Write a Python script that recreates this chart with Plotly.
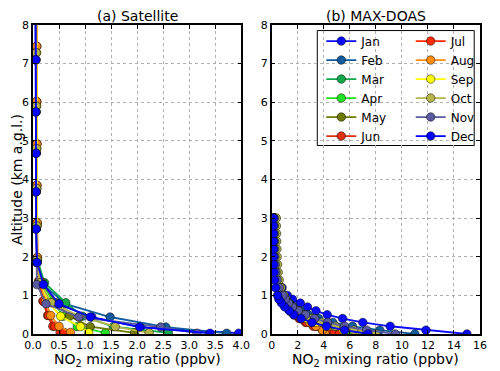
import plotly.graph_objects as go
from plotly.subplots import make_subplots

months = ["Jan", "Feb", "Mar", "Apr", "May", "Jun",
          "Jul", "Aug", "Sep", "Oct", "Nov", "Dec"]
colors = ["#0a0aff", "#105c9e", "#10a84a", "#22e022", "#6e7a00", "#e03010",
          "#ff2a00", "#ff8c10", "#ffff00", "#b5b54a", "#5a5aa0", "#0000ff"]

# satellite layer altitudes (km), vary with season
sat_alt_winter = [0.02, 0.18, 0.44, 0.78, 1.28, 1.85, 2.72, 3.68, 4.68, 5.75, 7.10, 8.60]
sat_alt_mid = [0.03, 0.19, 0.46, 0.81, 1.33, 1.92, 2.80, 3.77, 4.80, 5.90, 7.28, 8.80]
sat_alt_summer = [0.04, 0.20, 0.48, 0.85, 1.38, 1.98, 2.88, 3.85, 4.92, 6.02, 7.45, 9.00]
sat_alt_group = ["winter", "winter", "mid", "mid", "mid", "summer",
                 "summer", "summer", "mid", "mid", "winter", "winter"]

sat_jan = [3.95, 2.07, 1.13, 0.48, 0.17, 0.075, 0.06, 0.06, 0.06, 0.055, 0.055, 0.05]
sat_feb = [3.72, 2.55, 1.48, 0.62, 0.20, 0.08, 0.065, 0.06, 0.06, 0.06, 0.055, 0.05]
sat_mar = [2.60, 1.54, 0.95, 0.63, 0.22, 0.085, 0.07, 0.065, 0.065, 0.06, 0.06, 0.055]
sat_apr = [1.39, 0.85, 0.58, 0.40, 0.17, 0.08, 0.07, 0.065, 0.065, 0.06, 0.06, 0.055]
sat_may = [1.95, 1.10, 0.70, 0.45, 0.18, 0.08, 0.07, 0.065, 0.065, 0.06, 0.06, 0.055]
sat_jun = [0.52, 0.38, 0.28, 0.19, 0.11, 0.08, 0.075, 0.07, 0.07, 0.07, 0.07, 0.065]
sat_jul = [0.60, 0.42, 0.30, 0.20, 0.12, 0.085, 0.08, 0.075, 0.075, 0.07, 0.07, 0.065]
sat_aug = [0.72, 0.50, 0.34, 0.24, 0.13, 0.085, 0.08, 0.075, 0.075, 0.07, 0.07, 0.065]
sat_sep = [1.07, 0.91, 0.53, 0.30, 0.14, 0.085, 0.08, 0.075, 0.075, 0.07, 0.07, 0.065]
sat_oct = [2.23, 1.58, 0.90, 0.35, 0.14, 0.08, 0.07, 0.065, 0.065, 0.06, 0.06, 0.055]
sat_nov = [3.15, 2.45, 0.88, 0.25, 0.075, 0.065, 0.06, 0.06, 0.06, 0.055, 0.055, 0.05]
sat_dec = [3.40, 2.05, 1.10, 0.50, 0.20, 0.08, 0.06, 0.06, 0.06, 0.055, 0.055, 0.05]

# MAX-DOAS altitudes (km)
md_alt = [0.0, 0.1, 0.2, 0.3, 0.4, 0.5, 0.6, 0.7, 0.8, 0.9, 1.0,
          1.2, 1.4, 1.6, 1.8, 2.0, 2.2, 2.4, 2.6, 2.8, 3.0]

md_jan = [15.0, 11.85, 9.1, 7.0, 5.45, 4.26, 3.4, 2.75, 2.2, 1.6, 1.2,
          0.8, 0.45, 0.3, 0.22, 0.2, 0.18, 0.17, 0.16, 0.16, 0.15]
md_feb = [11.0, 8.3, 6.2, 4.7, 3.6, 2.8, 2.2, 1.7, 1.35, 1.05, 0.85,
          0.55, 0.38, 0.28, 0.23, 0.2, 0.19, 0.18, 0.18, 0.17, 0.17]
md_mar = [6.8, 5.2, 4.0, 3.1, 2.45, 1.95, 1.6, 1.3, 1.05, 0.88, 0.75,
          0.52, 0.38, 0.3, 0.26, 0.24, 0.22, 0.21, 0.2, 0.2, 0.2]
md_apr = [6.0, 4.7, 3.6, 2.8, 2.2, 1.75, 1.4, 1.15, 0.95, 0.8, 0.68,
          0.48, 0.36, 0.29, 0.25, 0.23, 0.22, 0.21, 0.2, 0.2, 0.2]
md_may = [5.5, 4.4, 3.5, 2.8, 2.25, 1.8, 1.45, 1.2, 1.0, 0.85, 0.72,
          0.52, 0.4, 0.33, 0.29, 0.27, 0.25, 0.24, 0.23, 0.22, 0.22]
md_jun = [4.8, 3.9, 3.2, 2.6, 2.1, 1.7, 1.4, 1.15, 0.95, 0.8, 0.68,
          0.5, 0.38, 0.31, 0.27, 0.25, 0.24, 0.23, 0.22, 0.22, 0.21]
md_jul = [5.2, 4.2, 3.4, 2.7, 2.2, 1.75, 1.4, 1.15, 0.95, 0.8, 0.68,
          0.5, 0.38, 0.31, 0.27, 0.25, 0.24, 0.23, 0.22, 0.22, 0.21]
md_aug = [4.1, 3.9, 3.4, 2.9, 2.3, 1.85, 1.5, 1.2, 0.95, 0.8, 0.68,
          0.48, 0.36, 0.3, 0.26, 0.24, 0.23, 0.22, 0.21, 0.21, 0.2]
md_sep = [7.0, 5.5, 4.3, 3.4, 2.7, 2.2, 1.8, 1.5, 1.25, 1.05, 0.9,
          0.68, 0.52, 0.43, 0.38, 0.35, 0.33, 0.32, 0.31, 0.3, 0.3]
md_oct = [8.0, 6.3, 4.9, 3.8, 3.0, 2.4, 1.95, 1.6, 1.3, 1.1, 0.95,
          0.72, 0.58, 0.5, 0.45, 0.42, 0.4, 0.38, 0.37, 0.36, 0.35]
md_nov = [9.5, 7.3, 5.6, 4.3, 3.3, 2.6, 2.05, 1.6, 1.3, 1.05, 0.85,
          0.58, 0.42, 0.33, 0.28, 0.25, 0.23, 0.22, 0.21, 0.2, 0.2]
md_dec = [7.4, 5.6, 4.2, 3.1, 2.25, 1.7, 1.35, 1.0, 0.75, 0.55, 0.45,
          0.3, 0.22, 0.18, 0.15, 0.15, 0.14, 0.14, 0.13, 0.13, 0.13]

sat_vals = [sat_jan, sat_feb, sat_mar, sat_apr, sat_may, sat_jun,
            sat_jul, sat_aug, sat_sep, sat_oct, sat_nov, sat_dec]
md_vals = [md_jan, md_feb, md_mar, md_apr, md_may, md_jun,
           md_jul, md_aug, md_sep, md_oct, md_nov, md_dec]
sat_alts = {"winter": sat_alt_winter, "mid": sat_alt_mid, "summer": sat_alt_summer}

FONT = "DejaVu Sans"

fig = make_subplots(rows=1, cols=2, horizontal_spacing=0.068)

for i, m in enumerate(months):
    marker = dict(size=8.5, color=colors[i], line=dict(color="rgba(0,0,0,0.7)", width=0.7))
    fig.add_trace(
        go.Scatter(
            x=sat_vals[i], y=sat_alts[sat_alt_group[i]],
            mode="lines+markers", name=m, showlegend=False,
            line=dict(color=colors[i], width=1.8), marker=marker,
        ),
        row=1, col=1
    )
    # first six months in one legend column, the rest in a second
    fig.add_trace(
        go.Scatter(
            x=md_vals[i], y=md_alt,
            mode="lines+markers", name=m,
            legend="legend" if i < 6 else "legend2",
            line=dict(color=colors[i], width=1.8), marker=marker,
        ),
        row=1, col=2
    )

axis_style = dict(
    showline=True, linecolor="black", linewidth=1.5, mirror="allticks",
    ticks="inside", ticklen=4, tickcolor="black",
    showgrid=True, gridcolor="#b0b0b0", griddash="dot", gridwidth=1,
    zeroline=False, tickfont=dict(family=FONT, size=11, color="black"),
)

fig.update_xaxes(axis_style)
fig.update_yaxes(axis_style)
fig.update_xaxes(range=[0, 4.0], dtick=0.5, tickformat=".1f", row=1, col=1)
fig.update_xaxes(range=[0, 16], dtick=2, row=1, col=2)
fig.update_yaxes(range=[0, 8], dtick=1, row=1, col=1)
fig.update_yaxes(range=[0, 8], dtick=1, row=1, col=2)

title_font = dict(family=FONT, size=14, color="black")
for xref in ["x domain", "x2 domain"]:
    fig.add_annotation(text="NO<sub>2</sub> mixing ratio (ppbv)", xref=xref, yref="paper",
                       x=0.5, y=-0.085, yanchor="middle", showarrow=False, font=title_font)
fig.add_annotation(text="Altitude (km a.g.l.)", xref="paper", yref="paper",
                   x=-0.037, y=0.5, textangle=-90, xanchor="center", yanchor="middle",
                   showarrow=False, font=title_font)

fig.add_annotation(text="(a) Satellite", xref="x domain", yref="y domain", x=0.5, y=1.0,
                   yanchor="bottom", showarrow=False, font=title_font, yshift=-1)
fig.add_annotation(text="(b) MAX-DOAS", xref="x2 domain", yref="y2 domain", x=0.5, y=1.0,
                   yanchor="bottom", showarrow=False, font=title_font, yshift=-1)

legend_font = dict(family=FONT, size=12, color="black")
# page body adds an 8 px offset, so the figure is sized 8 px smaller
fig.update_layout(
    width=492, height=363,
    margin=dict(l=25, r=11, t=11, b=37),
    plot_bgcolor="white", paper_bgcolor="white",
    font=dict(family=FONT, color="black"),
    legend=dict(x=0.645, y=0.995, xanchor="left", yanchor="top",
                bgcolor="rgba(0,0,0,0)", font=legend_font, tracegroupgap=0),
    legend2=dict(x=0.845, y=0.995, xanchor="left", yanchor="top",
                 bgcolor="rgba(0,0,0,0)", font=legend_font, tracegroupgap=0),
)

# white box with black frame behind both legend columns
fig.add_shape(type="rect", xref="paper", yref="paper", x0=0.636, x1=0.987, y0=0.61, y1=0.982,
              fillcolor="white", line=dict(color="black", width=1), layer="below")

fig.write_html("out.html")
